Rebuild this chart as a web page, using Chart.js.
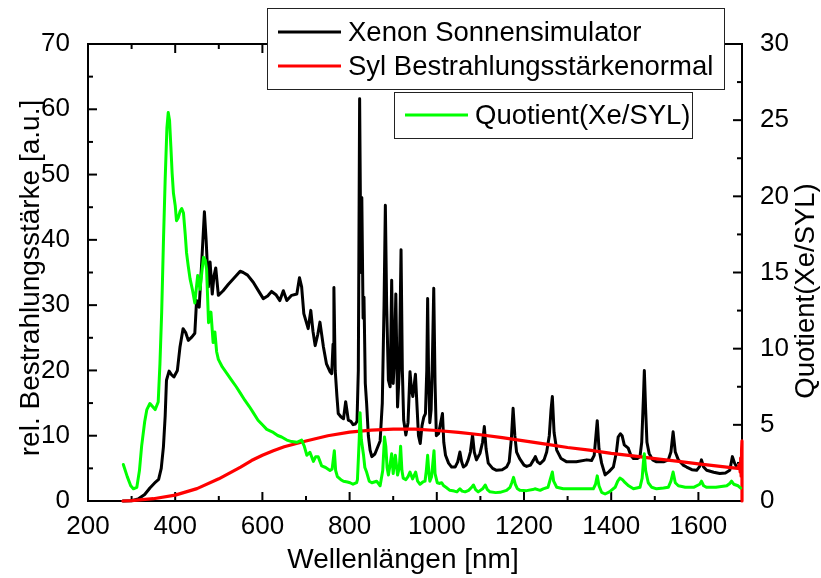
<!DOCTYPE html>
<html>
<head>
<meta charset="utf-8">
<title>Xenon Sonnensimulator</title>
<script src="https://cdn.jsdelivr.net/npm/chart.js@4.4.1/dist/chart.umd.min.js"></script>
<style>
  html, body { margin: 0; padding: 0; background: #fff; }
  canvas { display: block; }
</style>
</head>
<body>
<canvas id="spectrum" width="821" height="578"></canvas>
<script>
// Xenon Sonnensimulator spectrum (left axis)
const xenonWl = [280, 300, 315, 330, 342, 355, 362, 368, 373, 377, 380, 386, 392, 397, 405, 411, 418, 424, 430, 438,
  445, 449, 455, 461, 467, 471, 476, 480, 485, 489, 493, 499, 510, 522, 533, 549, 556, 566, 579, 590,
  602, 612, 621, 631, 640, 648, 656, 667, 679, 685, 690, 695, 705, 711, 716, 721, 727, 732, 740, 747,
  755, 759, 762, 764, 767, 771, 774, 780, 786, 791, 797, 803, 808, 813, 817, 820, 823, 826, 828, 831,
  833, 836, 839, 843, 847, 851, 858, 864, 870, 875, 879, 882, 885, 889, 893, 896.5, 900, 903, 906, 910,
  914, 918, 921, 924, 929, 934, 938.5, 942, 945, 951, 955, 958, 962, 966, 970, 974, 977, 979, 981, 984,
  987, 990, 993, 996, 999, 1004, 1009, 1013, 1016, 1020, 1027, 1034, 1042, 1048, 1053, 1057, 1061, 1067, 1072, 1077,
  1082, 1086, 1091, 1099, 1105, 1109, 1113, 1118, 1128, 1137, 1150, 1160, 1166, 1171, 1175, 1179, 1183, 1190, 1200, 1206,
  1215, 1222, 1226, 1231, 1237, 1246, 1252, 1258, 1262, 1265, 1269, 1275, 1285, 1298, 1320, 1344, 1355, 1361, 1365, 1368,
  1372, 1378, 1386, 1395, 1405, 1412, 1416, 1421, 1425, 1430, 1439, 1445, 1451, 1460, 1466, 1470, 1474, 1476, 1479, 1482,
  1487, 1495, 1504, 1520, 1531, 1537, 1542, 1547, 1554, 1565, 1573, 1585, 1596, 1603, 1607, 1612, 1619, 1635, 1649, 1662,
  1672, 1678, 1683, 1688, 1694, 1698];
const xenonVal = [0, 0.05, 0.3, 1.0, 2.0, 2.9, 3.3, 5, 8.3, 13, 18.5, 19.9, 19.3, 19.0, 20, 23.6, 26.4, 25.8, 24.6, 25.1,
  25.7, 30.7, 29.7, 36.8, 44.3, 39.9, 32.8, 36.6, 31.7, 34.5, 35.7, 31.5, 32.2, 33.2, 34.0, 35.2, 35.0, 34.6, 33.5, 32.3,
  31.0, 31.4, 32.1, 31.6, 30.7, 32.2, 30.7, 31.5, 31.7, 34.2, 32.8, 28.7, 26.4, 29.2, 26, 23.8, 25.5, 27.4, 23.6, 21.0,
  19.8, 19.5, 24, 32.7, 20, 16, 13.4, 12.9, 12.6, 15.2, 12.4, 12.2, 11.7, 11.8, 12.2, 20, 61.6, 35, 46.5, 28,
  31.2, 18, 15, 10, 7.8, 6.8, 7.2, 8.2, 9.2, 15, 30, 45.3, 30, 18.5, 17.5, 33.8, 18, 22, 31.7, 14.4,
  20, 38.5, 20, 12.4, 10.1, 12, 19.8, 17, 16, 19.4, 14, 10, 8.8, 11.5, 12.8, 13.4, 20, 31, 20, 12.0,
  14, 22, 32.6, 18, 10, 10.3, 12, 13.4, 9, 7.0, 5.8, 5.2, 5.2, 6, 7.5, 6, 5.2, 5.5, 6.3, 7.5,
  10.1, 7.5, 6.3, 7.3, 9, 11.4, 8, 5.8, 5.0, 4.7, 4.8, 5.2, 6.0, 9.5, 14.2, 10, 7.5, 6.5, 5.5, 5.3,
  5.5, 6.3, 6.8, 6, 5.7, 6.3, 7.5, 10, 14, 16.0, 10.5, 7.8, 6.5, 6.0, 6.0, 6.3, 6.2, 7, 10, 12.3,
  8, 5.8, 4.0, 4.5, 5.2, 7.5, 9.8, 10.3, 10.0, 8.6, 8.1, 7.0, 6.5, 6.5, 6.8, 9, 16, 20.0, 14, 9,
  7.3, 6.3, 6.0, 6.0, 6.3, 7.5, 10.6, 7.5, 6.3, 5.5, 5.2, 4.8, 4.7, 5.3, 6.3, 5.2, 4.7, 4.4, 4.2, 4.3,
  4.7, 6.8, 5.8, 5.2, 5.5, 5.0];

// Syl Bestrahlungsstärkenormal (left axis)
const sylWl = [280, 300, 350, 400, 450, 500, 550, 575, 600, 625, 650, 700, 750, 800, 850, 900, 950, 1000, 1050, 1100, 1150,
  1200, 1250, 1300, 1350, 1400, 1450, 1500, 1550, 1600, 1650, 1690, 1694, 1696, 1697, 1698, 1699, 1700, 1700];
const sylVal = [0, 0.05, 0.35, 0.9, 1.9, 3.4, 5.2, 6.2, 7.0, 7.7, 8.3, 9.2, 10.0, 10.55, 10.85, 11.0, 11.0, 10.8, 10.5, 10.15, 9.7,
  9.2, 8.7, 8.2, 7.8, 7.3, 6.9, 6.5, 6.1, 5.7, 5.3, 5.0, 5.6, 4.4, 6.6, 3.8, 7.8, 9.2, 0];

// Quotient(Xe/SYL) (right axis)
const quotWl = [281, 290, 298, 304, 312, 318, 323, 330, 335, 342, 348, 354, 361, 365, 369, 373, 377, 381, 384, 387,
  390, 393, 396, 400, 403, 407, 411, 415, 419, 423, 426, 430, 434, 440, 445, 451.5, 457, 461, 465, 469,
  472, 476.5, 482, 487, 491, 495, 499, 508, 518, 530, 540, 549, 560, 570, 579, 590, 600, 610, 625, 635,
  644, 656, 667, 679, 690, 696, 702, 709, 717, 722, 728, 732, 736, 745, 755, 760, 765, 768, 772, 780,
  786, 795, 801, 808, 816, 818, 822, 824, 827, 832, 835, 839, 845, 851, 862, 870, 876, 880, 883, 886,
  889, 893, 896.5, 900, 905, 910, 914, 917, 920, 923, 929, 934, 938.5, 944.5, 951.5, 956, 961.5, 968, 973, 976,
  979, 982, 984, 988, 990, 993.6, 996, 1001, 1007, 1011, 1016, 1021, 1030, 1040, 1046, 1053, 1058, 1065, 1073, 1080,
  1084, 1089, 1095, 1105, 1111, 1116, 1122, 1135, 1145, 1160, 1168, 1172, 1176, 1180, 1185, 1191, 1206, 1220, 1225, 1237,
  1244, 1255, 1260, 1265, 1268, 1275, 1290, 1310, 1336, 1359, 1364, 1368, 1372, 1378, 1386, 1396, 1409, 1415, 1420, 1426,
  1432, 1440, 1451, 1466, 1471, 1474, 1476, 1479, 1485, 1493, 1504, 1520, 1531, 1537, 1542, 1547, 1554, 1570, 1589, 1603,
  1607, 1612, 1619, 1640, 1665, 1672, 1676, 1681, 1691, 1697];
const quotVal = [2.4, 1.6, 1.0, 0.8, 0.9, 2.0, 3.6, 5.2, 6.0, 6.4, 6.2, 6.0, 6.5, 9, 12.4, 17, 21.1, 24.5, 25.5, 25.0,
  23.3, 21.5, 20.2, 19.4, 18.4, 18.6, 19.0, 19.2, 18.9, 17.5, 16.3, 15.4, 14.6, 13.8, 13.0, 14.8, 13.9, 15, 16.0, 15.8,
  15.2, 11.7, 12.4, 10.4, 11.1, 9.8, 9.3, 8.8, 8.4, 7.9, 7.5, 7.1, 6.6, 6.2, 5.8, 5.3, 5.0, 4.7, 4.5, 4.3,
  4.2, 4.0, 3.9, 3.85, 4.0, 3.6, 3.0, 3.2, 2.6, 2.9, 2.9, 2.6, 2.3, 2.2, 2.0, 2.1, 3.3, 2.0, 1.6, 1.4,
  1.3, 1.25, 1.2, 1.1, 1.2, 1.4, 4.0, 5.8, 4.0, 3.0, 2.2, 1.9, 1.3, 1.2, 1.3, 1.0, 2.0, 4.2, 3.6, 2.2,
  1.7, 2.4, 3.1, 1.8, 3.0, 1.7, 2.2, 3.6, 2.0, 1.5, 1.4, 1.6, 1.9, 1.45, 1.9, 1.3, 1.1, 1.25, 1.3, 2.0,
  3.0, 1.8, 1.3, 1.6, 2.2, 3.3, 1.8, 1.2, 1.15, 1.2, 1.0, 0.9, 0.7, 0.65, 0.6, 0.8, 0.65, 0.6, 0.7, 0.9,
  1.05, 0.75, 0.6, 0.8, 1.05, 0.75, 0.6, 0.55, 0.57, 0.7, 0.9, 1.2, 1.55, 1.1, 0.8, 0.7, 0.68, 0.75, 0.8, 0.7,
  0.8, 0.9, 1.4, 1.9, 1.3, 0.9, 0.8, 0.8, 0.8, 0.8, 1.1, 1.65, 1.0, 0.57, 0.46, 0.6, 0.9, 1.3, 1.5, 1.4,
  1.2, 1.0, 0.8, 0.9, 1.5, 2.6, 3.1, 2.0, 1.2, 0.9, 0.8, 0.85, 0.9, 1.3, 1.9, 1.2, 1.0, 0.9, 0.9, 1.1,
  1.3, 1.0, 0.9, 0.9, 1.0, 1.15, 1.3, 1.1, 1.0, 0.85];

// Tick labels
const xTicks = [200, 400, 600, 800, 1000, 1200, 1400, 1600];
const yLeftTicks = [0, 10, 20, 30, 40, 50, 60, 70];
const yRightTicks = [0, 5, 10, 15, 20, 25, 30];

const xTitle = 'Wellenlängen [nm]';
const yLeftTitle = 'rel. Bestrahlungsstärke [a.u.]';
const yRightTitle = 'Quotient(Xe/SYL)';

const FONT = "'Liberation Sans', Arial, sans-serif";

const toPoints = (xs, ys) => xs.map((x, i) => ({ x, y: ys[i] }));

// Frame with inward major/minor ticks on all four sides
const framePlugin = {
  id: 'frame',
  beforeDatasetsDraw(chart) {
    const { ctx, chartArea: a, scales } = chart;
    ctx.save();
    ctx.strokeStyle = '#000';
    ctx.lineWidth = 2;
    ctx.strokeRect(a.left, a.top, a.right - a.left, a.bottom - a.top);

    const tick = (x1, y1, x2, y2) => {
      ctx.beginPath();
      ctx.moveTo(x1, y1);
      ctx.lineTo(x2, y2);
      ctx.stroke();
    };
    const withMinors = (vals, step) => {
      const out = [];
      vals.forEach(v => out.push([v, 9], [v + step / 2, 5]));
      return out;
    };

    withMinors(xTicks, 200).forEach(([v, len]) => {
      if (v > scales.x.max) return;
      const px = scales.x.getPixelForValue(v);
      tick(px, a.bottom, px, a.bottom - len);
      tick(px, a.top, px, a.top + len);
    });
    withMinors(yLeftTicks, 10).forEach(([v, len]) => {
      if (v > scales.y.max) return;
      const py = scales.y.getPixelForValue(v);
      tick(a.left, py, a.left + len, py);
    });
    withMinors(yRightTicks, 5).forEach(([v, len]) => {
      if (v > scales.y2.max) return;
      const py = scales.y2.getPixelForValue(v);
      tick(a.right, py, a.right - len, py);
    });
    ctx.restore();
  },
  afterDraw(chart) {
    const { ctx } = chart;
    ctx.save();
    ctx.fillStyle = '#000';

    // axis titles
    ctx.font = `28px ${FONT}`;
    ctx.textAlign = 'center';
    ctx.textBaseline = 'alphabetic';
    ctx.fillText(xTitle, 403, 568);

    ctx.textBaseline = 'middle';
    ctx.save();
    ctx.translate(31, 278);
    ctx.rotate(-Math.PI / 2);
    ctx.fillText(yLeftTitle, 0, 0);
    ctx.restore();

    ctx.font = `27.5px ${FONT}`;
    ctx.save();
    ctx.translate(806, 291);
    ctx.rotate(-Math.PI / 2);
    ctx.fillText(yRightTitle, 0, 0);
    ctx.restore();

    // legend boxes
    const ds = chart.data.datasets;
    const box = (x, y, w, h, rows) => {
      ctx.fillStyle = '#fff';
      ctx.fillRect(x, y, w, h);
      ctx.strokeStyle = '#222';
      ctx.lineWidth = 1;
      ctx.strokeRect(x + 0.5, y + 0.5, w, h);
      rows.forEach(r => {
        ctx.strokeStyle = r.color;
        ctx.lineWidth = 3;
        ctx.beginPath();
        ctx.moveTo(x + 11, r.y);
        ctx.lineTo(x + 74, r.y);
        ctx.stroke();
        ctx.fillStyle = '#000';
        ctx.textAlign = 'left';
        ctx.textBaseline = 'middle';
        ctx.font = `27.5px ${FONT}`;
        ctx.fillText(r.text, x + 81, r.y + 1);
      });
    };
    box(267, 8, 457, 81, [
      { y: 32, color: ds[0].borderColor, text: ds[0].label },
      { y: 66, color: ds[1].borderColor, text: ds[1].label }
    ]);
    box(394, 92, 298, 46, [
      { y: 115, color: ds[2].borderColor, text: ds[2].label }
    ]);
    ctx.restore();
  }
};

const tickFont = { family: FONT, size: 26 };
const plainLabel = v => String(v);

new Chart(document.getElementById('spectrum'), {
  type: 'line',
  data: {
    datasets: [
      {
        label: 'Xenon Sonnensimulator',
        data: toPoints(xenonWl, xenonVal),
        borderColor: '#000000',
        borderWidth: 3,
        yAxisID: 'y',
        order: 3
      },
      {
        label: 'Syl Bestrahlungsstärkenormal',
        data: toPoints(sylWl, sylVal),
        borderColor: '#ff0000',
        borderWidth: 3.2,
        yAxisID: 'y',
        order: 2
      },
      {
        label: 'Quotient(Xe/SYL)',
        data: toPoints(quotWl, quotVal),
        borderColor: '#00ff00',
        borderWidth: 3,
        yAxisID: 'y2',
        order: 1
      }
    ]
  },
  options: {
    responsive: false,
    animation: false,
    devicePixelRatio: 1,
    layout: { padding: { top: 44, left: 0, right: 0, bottom: 0 } },
    elements: {
      point: { radius: 0 },
      line: { tension: 0, borderJoinStyle: 'round', borderCapStyle: 'round' }
    },
    datasets: { line: { clip: false } },
    plugins: {
      legend: { display: false },
      tooltip: { enabled: false }
    },
    scales: {
      x: {
        type: 'linear',
        min: 200,
        max: 1700,
        grid: { display: false },
        border: { display: false },
        afterBuildTicks: s => { s.ticks = xTicks.map(v => ({ value: v })); },
        afterFit: s => { s.height = 77; },
        ticks: { font: tickFont, color: '#000', padding: 2, maxRotation: 0, autoSkip: false, callback: plainLabel }
      },
      y: {
        position: 'left',
        min: 0,
        max: 70,
        grid: { display: false },
        border: { display: false },
        afterBuildTicks: s => { s.ticks = yLeftTicks.map(v => ({ value: v })); },
        afterFit: s => { s.width = 88; },
        ticks: { font: tickFont, color: '#000', padding: 10, callback: plainLabel }
      },
      y2: {
        position: 'right',
        min: 0,
        max: 30,
        grid: { display: false },
        border: { display: false },
        afterBuildTicks: s => { s.ticks = yRightTicks.map(v => ({ value: v })); },
        afterFit: s => { s.width = 79; },
        ticks: { font: tickFont, color: '#000', padding: 10, callback: plainLabel }
      }
    }
  },
  plugins: [framePlugin]
});
</script>
</body>
</html>
